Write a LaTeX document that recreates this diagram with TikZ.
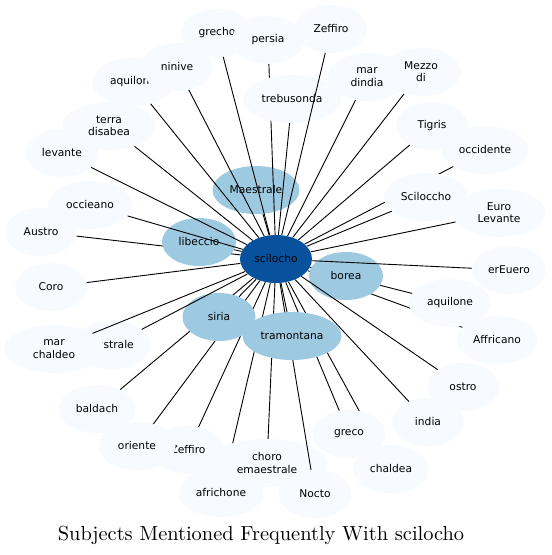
\documentclass[tikz,border=0pt]{standalone}
\usepackage{fontspec}
\usepackage{tikz}
\usetikzlibrary{shapes.geometric}
\newfontfamily\labelfont{DejaVu Sans}
\newfontfamily\titlefont{lmroman10-regular.otf}
\definecolor{paleblue}{HTML}{F7FBFF}
\definecolor{midblue}{HTML}{9ECAE1}
\definecolor{darkblue}{HTML}{08519C}
\pgfdeclarelayer{front}
\pgfsetlayers{main,front}

\begin{document}
\begin{tikzpicture}[
    x=1pt, y=-1pt,
    every node/.style={ellipse, inner sep=0pt, minimum width=72pt, minimum height=48pt,
        align=center, font=\labelfont\fontsize{10.7}{12.3}\selectfont},
    faint/.style={fill=paleblue},
    midnode/.style={fill=midblue},
    hub/.style={fill=darkblue},
    link/.style={line width=0.9pt},
    headline/.style={rectangle, minimum width=0pt, minimum height=0pt, font=\titlefont\fontsize{20.4}{24}\selectfont}
]
\useasboundingbox (0,0) rectangle (552,555);

\begin{pgfonlayer}{front}
\node[hub] (scilocho) at (276,259) {scilocho};
\end{pgfonlayer}

\node[midnode, minimum width=87pt] (maestrale) at (256,190) {Maestrale};

% outer ring
\node[faint] (grecho) at (217,33) {grecho};
\node[faint] (persia) at (268,40) {persia};
\node[faint] (zeffiroN) at (331,29) {Zeffiro};
\node[faint, minimum width=82pt] (aquiloneN) at (133,82) {aquilone};
\node[faint] (ninive) at (177,67) {ninive};
\node[faint, minimum width=93pt] (terra) at (109,126) {terra\\disabea};
\node[faint, minimum width=73pt] (levante) at (62,153) {levante};
\node[faint, minimum width=78pt] (mardindia) at (367,77) {mar\\dindia};
\node[faint, minimum width=80pt] (mezzodi) at (421,72) {Mezzo\\di};
\node[faint] (tigris) at (432,126) {Tigris};
\node[faint, minimum width=87pt] (occidente) at (485,150) {occidente};
\node[faint, minimum width=93pt] (eurolevante) at (499,213) {Euro\\Levante};
\node[faint, minimum width=84pt] (occieano) at (90,205) {occieano};
\node[faint] (austro) at (41,232) {Austro};
\node[faint, minimum width=74pt] (ereuero) at (509,270) {erEuero};
\node[faint] (coro) at (51,287) {Coro};
\node[faint, minimum width=81pt] (affricano) at (497,340) {Affricano};
\node[faint, minimum width=77pt] (australe) at (112,345) {australe};
\node[faint, minimum width=100pt] (marchaldeo) at (54,349) {mar\\chaldeo};
\node[faint] (ostro) at (463,387) {ostro};
\node[faint, minimum width=77pt] (baldach) at (97,409) {baldach};
\node[faint] (india) at (428,422) {india};
\node[faint] (zeffiroS) at (188,450) {Zeffiro};
\node[faint, minimum width=77pt] (oriente) at (137,446) {oriente};
\node[faint, minimum width=76pt] (chaldea) at (391,469) {chaldea};
\node[faint, minimum width=85pt] (africhone) at (221,493) {africhone};
\node[faint, minimum width=73pt] (nocto) at (315,494) {Nocto};

% Connections hidden further on
\draw[link] (scilocho) -- (persia);
\draw[link] (scilocho) -- (occidente);
\draw[link] (scilocho) -- (affricano);
\draw[link] (scilocho) -- (chaldea);
\draw[link] (scilocho) -- (africhone);
\draw[link] (scilocho) -- (austro);
\draw[link] (scilocho) -- (baldach);
\draw[link] (scilocho) -- (oriente);
\draw[link] (scilocho) -- (zeffiroS);

\node[faint, minimum width=98pt] (trebusonda) at (292,99) {trebusonda};
\node[faint, minimum width=84pt] (sciloccho) at (426,197) {Sciloccho};
\node[faint, minimum width=82pt] (aquiloneE) at (450,303) {aquilone};
\node[faint, minimum width=122pt] (choro) at (267,463) {choro\\emaestrale};
\node[faint, minimum width=73pt] (greco) at (349,434) {greco};
\node[midnode, minimum width=74pt] (libeccio) at (199,242) {libeccio};

\draw[link] (scilocho) -- (aquiloneE);
\draw[link] (scilocho) -- (greco);
\draw[link] (scilocho) -- (choro);
\draw[link] (scilocho) -- (nocto);

\node[midnode, minimum width=73pt] (siria) at (219,317) {siria};
\node[midnode, minimum width=99pt] (tramontana) at (292,336) {tramontana};
\node[midnode, minimum width=74pt] (borea) at (346,276) {borea};

% Connections
\foreach \target in {grecho, zeffiroN, aquiloneN, ninive, terra, levante, mardindia,
    mezzodi, tigris, trebusonda, sciloccho, eurolevante, occieano, ereuero, coro,
    australe, marchaldeo, ostro, india, maestrale, libeccio, borea, siria, tramontana}
    \draw[link] (scilocho) -- (\target);

\node[headline] (title) at (261,540) [anchor=base] {Subjects Mentioned Frequently With scilocho};

\end{tikzpicture}
\end{document}
